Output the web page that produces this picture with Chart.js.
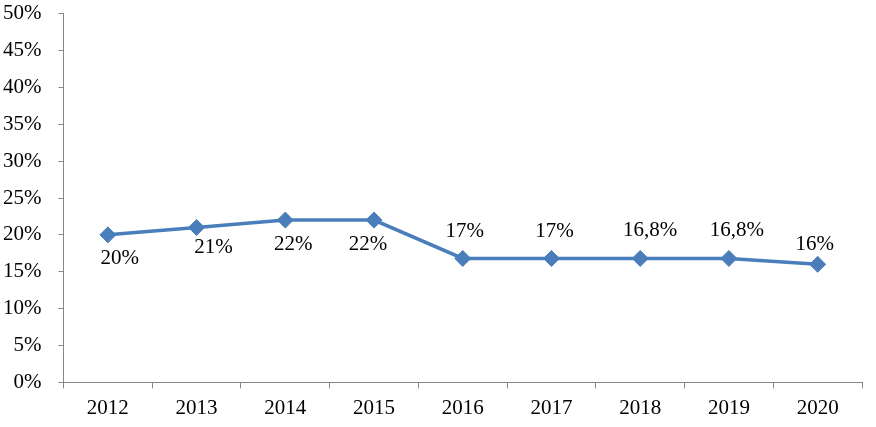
<!DOCTYPE html>
<html><head><meta charset="utf-8">
<script src="https://cdn.jsdelivr.net/npm/chart.js@4/dist/chart.umd.min.js"></script>
<style>html,body{margin:0;padding:0;background:#fff}#w{width:876px;height:427px}</style>
</head><body><div id="w"><canvas id="c"></canvas></div>
<script>
const years = ['2012','2013','2014','2015','2016','2017','2018','2019','2020'];
const shares = [20, 21, 22, 22, 16.8, 16.8, 16.8, 16.8, 16];
const labelTexts = ['20%','21%','22%','22%','17%','17%','16,8%','16,8%','16%'];
const yTicks = [0,5,10,15,20,25,30,35,40,45,50];

const FONT = "'Liberation Serif', 'Times New Roman', serif";
const labelPlacement = [[12,24],[17,20],[8,24],[-6,24],[2,-27],[3,-27],[10,-28],[8,-28],[-3,-20]];

const labelPlugin = {
  id: 'pointLabels',
  afterDatasetsDraw(chart) {
    const ctx = chart.ctx;
    const meta = chart.getDatasetMeta(0);
    ctx.save();
    ctx.font = "21px " + FONT;
    ctx.fillStyle = '#000';
    ctx.textAlign = 'center';
    ctx.textBaseline = 'middle';
    meta.data.forEach((pt, i) => {
      const [dx, dy] = labelPlacement[i];
      ctx.fillText(labelTexts[i], pt.x + dx, pt.y + dy);
    });
    ctx.restore();
  }
};

new Chart(document.getElementById('c'), {
  type: 'line',
  data: {
    labels: years,
    datasets: [{
      data: shares,
      borderColor: '#4A7EBB',
      backgroundColor: '#4A7EBB',
      borderWidth: 3.5,
      pointStyle: 'rectRot',
      pointRadius: 8,
      pointBorderWidth: 1,
      pointBorderColor: '#4A7EBB',
      tension: 0
    }]
  },
  options: {
    responsive: true,
    maintainAspectRatio: false,
    animation: false,
    layout: { padding: { top: 13.7, right: 14, bottom: 0, left: 0 } },
    plugins: { legend: { display: false }, tooltip: { enabled: false } },
    scales: {
      x: {
        type: 'category',
        offset: true,
        afterFit(s) { s.height = 44.7; s.paddingLeft = 0; s.paddingRight = 0; },
        grid: { offset: true, drawOnChartArea: false, drawTicks: true, tickLength: 6, color: '#868686', lineWidth: 1 },
        border: { display: true, color: '#868686', width: 1 },
        ticks: { color: '#000', font: { family: FONT, size: 21 }, padding: 8, maxRotation: 0 }
      },
      y: {
        min: 0, max: 50,
        afterFit(s) { s.width = 63.5; s.paddingTop = 0; s.paddingBottom = 0; },
        afterBuildTicks(s) { s.ticks = yTicks.map(v => ({ value: v })); },
        grid: { drawOnChartArea: false, drawTicks: true, tickLength: 5, color: '#868686', lineWidth: 1 },
        border: { display: true, color: '#868686', width: 1 },
        ticks: { color: '#000', font: { family: FONT, size: 21 }, padding: 17, callback: v => v + '%' }
      }
    }
  },
  plugins: [labelPlugin]
});
</script>
</body></html>
